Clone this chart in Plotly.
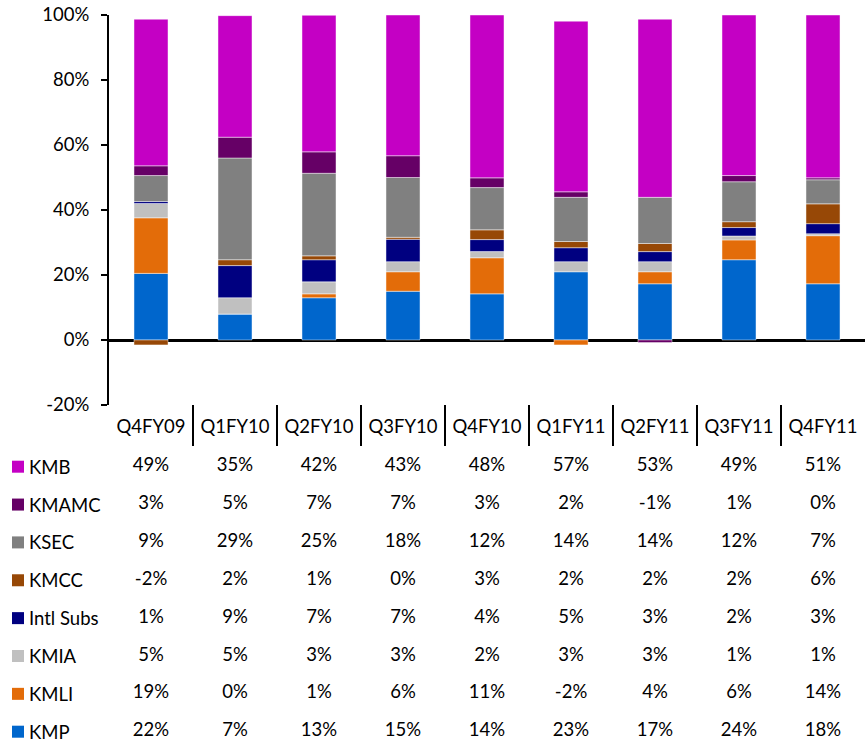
import plotly.graph_objects as go

categories = ["Q4FY09", "Q1FY10", "Q2FY10", "Q3FY10", "Q4FY10", "Q1FY11", "Q2FY11", "Q3FY11", "Q4FY11"]

# bar segment heights (%), bottom to top of stack
kmp_bar = [20.5, 8.0, 13.0, 15.0, 14.2, 21.0, 17.3, 24.7, 17.3]
kmli_bar = [17.1, 0.0, 1.2, 6.0, 11.1, -1.5, 3.7, 6.1, 14.8]
kmia_bar = [4.4, 5.0, 3.7, 3.1, 1.9, 3.1, 3.1, 1.2, 0.6]
intl_bar = [0.6, 9.9, 6.8, 6.9, 3.7, 4.3, 3.1, 2.6, 3.1]
kmcc_bar = [-1.5, 1.8, 1.2, 0.6, 3.0, 1.9, 2.5, 1.8, 6.1]
ksec_bar = [8.0, 31.3, 25.4, 18.4, 13.0, 13.6, 14.2, 12.3, 7.4]
kmamc_bar = [3.0, 6.4, 6.6, 6.7, 3.0, 1.7, -0.8, 1.9, 0.6]
kmb_bar = [45.1, 37.4, 42.0, 43.3, 50.1, 52.5, 54.8, 49.4, 50.1]

# data table values (%)
kmb_tab = [49, 35, 42, 43, 48, 57, 53, 49, 51]
kmamc_tab = [3, 5, 7, 7, 3, 2, -1, 1, 0]
ksec_tab = [9, 29, 25, 18, 12, 14, 14, 12, 7]
kmcc_tab = [-2, 2, 1, 0, 3, 2, 2, 2, 6]
intl_tab = [1, 9, 7, 7, 4, 5, 3, 2, 3]
kmia_tab = [5, 5, 3, 3, 2, 3, 3, 1, 1]
kmli_tab = [19, 0, 1, 6, 11, -2, 4, 6, 14]
kmp_tab = [22, 7, 13, 15, 14, 23, 17, 24, 18]

y_ticks = [-20, 0, 20, 40, 60, 80, 100]

series = [
    ("KMP", kmp_bar, kmp_tab, "#0066CC"),
    ("KMLI", kmli_bar, kmli_tab, "#E36C09"),
    ("KMIA", kmia_bar, kmia_tab, "#C0C0C0"),
    ("Intl Subs", intl_bar, intl_tab, "#000080"),
    ("KMCC", kmcc_bar, kmcc_tab, "#974806"),
    ("KSEC", ksec_bar, ksec_tab, "#808080"),
    ("KMAMC", kmamc_bar, kmamc_tab, "#660066"),
    ("KMB", kmb_bar, kmb_tab, "#C400C4"),
]

FONT = "Lato, 'Open Sans', sans-serif"
FS = 18.5
W, H = 866, 746
ML, MR, MT, MB = 109, 1, 15, 0
plot_h = H - MT - MB
plot_w = W - ML - MR
plot_bottom_px = 405
dom_split = (H - MB - plot_bottom_px) / plot_h

# table rows: px of first (KMB) and last (KMP) rows
row_top_px, row_bot_px = 466.7, 731.7
unit = (row_bot_px - row_top_px) / 7.0
tab_top_px = plot_bottom_px
tab_bot_px = H - MB
y2_lo = -(tab_bot_px - row_bot_px) / unit
y2_hi = y2_lo + (tab_bot_px - tab_top_px) / unit

fig = go.Figure()
for name, bars, tab, color in series:
    fig.add_trace(go.Bar(
        x=categories, y=bars, name=name, marker_color=color,
        marker_line=dict(color="rgba(255,255,255,0.45)", width=1),
        xaxis="x", yaxis="y", showlegend=False,
    ))

row_order = [s[0] for s in series]  # KMP bottom ... KMB top
for name, bars, tab, color in series:
    fig.add_trace(go.Scatter(
        x=categories, y=[name] * len(categories), mode="text",
        text=[f"{v}%" for v in tab],
        textfont=dict(family=FONT, size=FS, color="#000000"),
        xaxis="x", yaxis="y2", showlegend=False, hoverinfo="skip",
        cliponaxis=False,
    ))

shapes = []
annotations = []
sq = 6 / unit
for idx, (name, bars, tab, color) in enumerate(series):
    shapes.append(dict(
        type="rect", xref="paper", yref="y2",
        x0=(12 - ML) / plot_w, x1=(24 - ML) / plot_w,
        y0=idx - sq, y1=idx + sq,
        fillcolor=color, line=dict(width=0),
    ))
    annotations.append(dict(
        x=(27 - ML) / plot_w, y=name, xref="paper", yref="y2",
        text=name, showarrow=False, xanchor="left", yanchor="middle",
        font=dict(family=FONT, size=FS, color="#000000"),
    ))

# separators between category headers
for k in range(1, len(categories)):
    shapes.append(dict(
        type="line", xref="x", yref="paper",
        x0=k - 0.5, x1=k - 0.5,
        y0=dom_split, y1=dom_split - 41 / plot_h,
        line=dict(color="#000000", width=2),
    ))

fig.update_layout(
    width=W, height=H,
    margin=dict(l=ML, r=MR, t=MT, b=MB, autoexpand=False),
    barmode="relative", bargap=0.595,
    paper_bgcolor="white", plot_bgcolor="white",
    font=dict(family=FONT, size=FS, color="#000000"),
    xaxis=dict(
        type="category", categoryarray=categories, range=[-0.5, len(categories) - 0.5],
        anchor="y", showgrid=False, showline=False, zeroline=False, ticks="",
        tickfont=dict(family=FONT, size=FS, color="#000000"),
        ticklabelstandoff=8, ticklabeloverflow="allow", automargin=False,
    ),
    yaxis=dict(
        domain=[dom_split, 1], range=[-20, 100], tickvals=y_ticks,
        ticktext=[f"{v}%" for v in y_ticks],
        showgrid=False, showline=True, linecolor="#000000", linewidth=2,
        ticks="outside", ticklen=6, tickwidth=2, tickcolor="#000000",
        zeroline=True, zerolinecolor="#000000", zerolinewidth=3,
        tickfont=dict(family=FONT, size=FS, color="#000000"),
        ticklabelstandoff=8, ticklabeloverflow="allow", automargin=False,
    ),
    yaxis2=dict(
        domain=[0, dom_split], type="category", categoryarray=row_order,
        range=[y2_lo, y2_hi], showgrid=False, showline=False, zeroline=False,
        showticklabels=False, ticks="", automargin=False,
    ),
    shapes=shapes, annotations=annotations,
)

fig.write_html(
    "out.html",
    config={"displayModeBar": False},
    post_script="document.body.style.margin='0';",
)
